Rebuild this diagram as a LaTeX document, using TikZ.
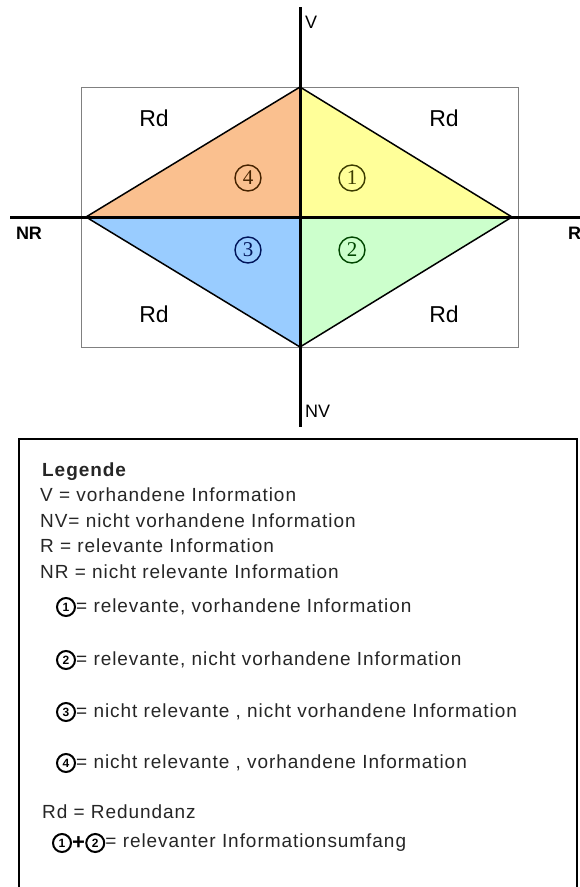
\documentclass[tikz,border=0pt]{standalone}
\usepackage{fontspec}
\setmainfont{Liberation Sans}
\newfontfamily\serifdig{Liberation Serif}
\newfontfamily\legfont[LetterSpace=5]{Liberation Sans}
\definecolor{qone}{RGB}{255,255,153}
\definecolor{qtwo}{RGB}{204,255,204}
\definecolor{qthree}{RGB}{153,204,255}
\definecolor{qfour}{RGB}{250,192,143}
\definecolor{numone}{RGB}{60,60,0}
\definecolor{numtwo}{RGB}{0,70,0}
\definecolor{numthree}{RGB}{0,20,90}
\definecolor{numfour}{RGB}{70,35,0}
\begin{document}
\begin{tikzpicture}[x=1pt,y=-1pt,
  axis/.style={line width=3pt,black},
  rdlabel/.style={inner sep=0pt,font=\fontsize{23}{23}\selectfont},
  axlabel/.style={inner sep=0pt,font=\fontsize{18}{18}\selectfont},
  quadnum/.style={circle,draw,line width=1.4pt,minimum size=26pt,inner sep=0pt,font=\serifdig\fontsize{21}{21}\selectfont},
  legtext/.style={anchor=base west,inner sep=0pt,font=\legfont\fontsize{19}{19}\selectfont,text=black!85},
  legnum/.style={circle,draw,line width=2pt,minimum size=18pt,inner sep=0pt,font=\bfseries\fontsize{12}{12}\selectfont},
]
\clip (0,0) rectangle (580,887);
\fill[white] (0,0) rectangle (580,887);
% diagram
\coordinate (O) at (300,217);
\coordinate (T) at (300,87);
\coordinate (E) at (512,217);
\coordinate (S) at (300,347);
\coordinate (W) at (86,217);
\fill[qone] (O)--(T)--(E)--cycle;
\fill[qtwo] (O)--(E)--(S)--cycle;
\fill[qthree] (O)--(S)--(W)--cycle;
\fill[qfour] (O)--(W)--(T)--cycle;
\draw[gray,line width=1pt] (81,87) rectangle (518,347);
\draw[line width=1.5pt] (T)--(E)--(S)--(W)--cycle;
\coordinate (Vtop) at (300,7);
\coordinate (Vbot) at (300,427);
\coordinate (Hl) at (10,217);
\coordinate (Hr) at (580,217);
\draw[axis] (Vtop)--(Vbot);
\draw[axis] (Hl)--(Hr);
\node[axlabel,anchor=west] (lV) at (305,22) {V};
\node[axlabel,anchor=west] (lNV) at (305,411) {NV};
\node[axlabel,font=\bfseries\fontsize{18}{18}\selectfont] (lNR) at (29,233) {NR};
\node[axlabel,anchor=west,font=\bfseries\fontsize{18}{18}\selectfont] (lR) at (568,233) {R};
\node[rdlabel] (rd1) at (154,118) {Rd};
\node[rdlabel] (rd2) at (444,118) {Rd};
\node[rdlabel] (rd3) at (154,314) {Rd};
\node[rdlabel] (rd4) at (444,314) {Rd};
\node[quadnum,draw=numfour,text=numfour] (c4) at (248,178) {4};
\node[quadnum,draw=numone,text=numone] (c1) at (352,178) {1};
\node[quadnum,draw=numthree,text=numthree] (c3) at (248,250) {3};
\node[quadnum,draw=numtwo,text=numtwo] (c2) at (352,250) {2};
% legend
\draw[line width=2pt] (19,439) rectangle (577,900);
\node[legtext,font=\legfont\bfseries\fontsize{19}{19}\selectfont] (leg0) at (42,476) {Legende};
\node[legtext] (leg1) at (40,501) {V = vorhandene Information};
\node[legtext] (leg2) at (40,527) {NV= nicht vorhandene Information};
\node[legtext] (leg3) at (40,552) {R = relevante Information};
\node[legtext] (leg4) at (40,578) {NR = nicht relevante Information};
\node[legnum] (n1) at (66,607) {1};
\node[legtext,anchor=west] (t1) at (n1.east) {= relevante, vorhandene Information};
\node[legnum] (n2) at (66,660) {2};
\node[legtext,anchor=west] (t2) at (n2.east) {= relevante, nicht vorhandene Information};
\node[legnum] (n3) at (66,712) {3};
\node[legtext,anchor=west] (t3) at (n3.east) {= nicht relevante , nicht vorhandene Information};
\node[legnum] (n4) at (66,763) {4};
\node[legtext,anchor=west] (t4) at (n4.east) {= nicht relevante , vorhandene Information};
\node[legtext] (leg5) at (42,818) {Rd = Redundanz};
\node[legnum] (m1) at (62,843) {1};
\node[anchor=west,inner sep=0pt,font=\bfseries\fontsize{22}{22}\selectfont] (plus) at (m1.east) {+};
\node[legnum,anchor=west] (m2) at (plus.east) {2};
\node[legtext,anchor=west] (t6) at (m2.east) {= relevanter Informationsumfang};
\end{tikzpicture}
\end{document}
